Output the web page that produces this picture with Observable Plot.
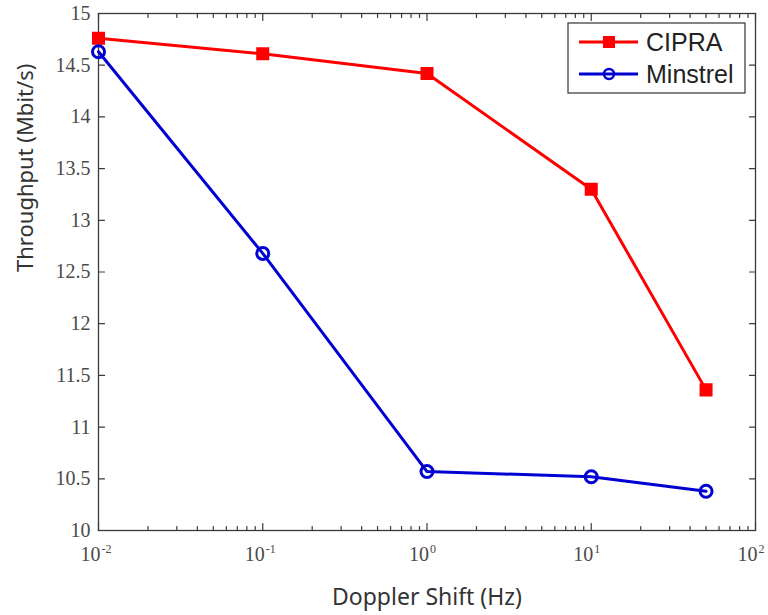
<!DOCTYPE html>
<html>
<head>
<meta charset="utf-8">
<script src="https://cdn.jsdelivr.net/npm/d3@7"></script>
<script src="https://cdn.jsdelivr.net/npm/@observablehq/plot@0.6"></script>
<style>
  html, body { margin: 0; padding: 0; background: #fff; }
  #wrap { position: relative; width: 768px; height: 615px; }
  #legend { position: absolute; left: 0; top: 0; pointer-events: none; }
</style>
</head>
<body>
<div id="wrap"></div>
<script>
// ---- data ----
const dopplerShift = [0.01, 0.1, 1, 10, 50];
const cipraThroughput = [14.76, 14.61, 14.42, 13.30, 11.36];
const minstrelThroughput = [14.63, 12.68, 10.57, 10.52, 10.38];
const seriesNames = ["CIPRA", "Minstrel"];
const xMajorTicks = [0.01, 0.1, 1, 10, 100];
const xTickBase = ["10", "10", "10", "10", "10"];
const xTickExponent = ["-2", "-1", "0", "1", "2"];
const yTicks = [10, 10.5, 11, 11.5, 12, 12.5, 13, 13.5, 14, 14.5, 15];
const yTickLabels = ["10", "10.5", "11", "11.5", "12", "12.5", "13", "13.5", "14", "14.5", "15"];
const xTitle = "Doppler Shift (Hz)";
const yTitle = "Throughput (Mbit/s)";

const xMinorTicks = [];
for (const d of [0.01, 0.1, 1, 10]) for (let k = 2; k <= 9; k++) xMinorTicks.push(+(d * k).toPrecision(3));

const cipra = dopplerShift.map((x, i) => ({x, y: cipraThroughput[i]}));
const minstrel = dopplerShift.map((x, i) => ({x, y: minstrelThroughput[i]}));

const RED = "#ff0000", BLUE = "#0000d2", AX = "#3a3a3a", LABEL = "#4a4a4a";
const SERIF = "Liberation Serif";
const tickShape = {draw(ctx, l) { ctx.moveTo(0, 0); ctx.lineTo(0, -l); }};
const vt = (data, o) => Plot.vector(data, {length: 6, anchor: "start", shape: tickShape, stroke: AX, strokeWidth: 1.2, ...o});
const xi = d => xMajorTicks.indexOf(d);

const chart = Plot.plot({
  width: 768, height: 615,
  marginLeft: 98, marginRight: 13, marginTop: 13, marginBottom: 85,
  x: {type: "log", domain: [0.01, 100], axis: null},
  y: {domain: [10, 15], axis: null},
  style: {fontFamily: SERIF, fontSize: "19px", background: "#fff"},
  marks: [
    vt(xMajorTicks, {x: d => d, frameAnchor: "bottom", length: 7}),
    vt(xMinorTicks, {x: d => d, frameAnchor: "bottom", length: 4}),
    vt(xMajorTicks, {x: d => d, frameAnchor: "top", rotate: 180, length: 7}),
    vt(xMinorTicks, {x: d => d, frameAnchor: "top", rotate: 180, length: 4}),
    vt(yTicks, {y: d => d, frameAnchor: "left", rotate: 90, length: 6}),
    vt(yTicks, {y: d => d, frameAnchor: "right", rotate: -90, length: 6}),
    // x tick labels: base "10" and raised exponent
    Plot.text(xMajorTicks, {x: d => d, frameAnchor: "bottom", text: d => xTickBase[xi(d)],
      textAnchor: "end", dx: 2, dy: 30, fontFamily: SERIF, fontSize: 20, fill: LABEL}),
    Plot.text(xMajorTicks, {x: d => d, frameAnchor: "bottom", text: d => xTickExponent[xi(d)],
      textAnchor: "start", dx: 3, dy: 22, fontFamily: SERIF, fontSize: 12, fill: LABEL}),
    // y tick labels
    Plot.text(yTicks, {y: d => d, frameAnchor: "left", text: d => yTickLabels[yTicks.indexOf(d)],
      textAnchor: "end", dx: -8, fontFamily: SERIF, fontSize: 20, fill: LABEL}),
    Plot.frame({stroke: AX, strokeWidth: 1.3}),
    Plot.line(cipra, {x: "x", y: "y", stroke: RED, strokeWidth: 3}),
    Plot.dot(cipra, {x: "x", y: "y", symbol: "square", r: 6.5, fill: RED, stroke: RED, strokeWidth: 1.5}),
    Plot.line(minstrel, {x: "x", y: "y", stroke: BLUE, strokeWidth: 3}),
    Plot.dot(minstrel, {x: "x", y: "y", symbol: "circle", r: 6, fill: "none", stroke: BLUE, strokeWidth: 3}),
    Plot.text([xTitle], {text: d => d, frameAnchor: "bottom", dy: 74, fontFamily: "Noto Sans", fontSize: 23, fill: "#333"}),
    Plot.text([yTitle], {text: d => d, frameAnchor: "left", rotate: -90, dx: -73, fontFamily: "Noto Sans", fontSize: 22, fill: "#333"})
  ]
});
document.getElementById("wrap").appendChild(chart);

// ---- legend (overlay) ----
const lg = d3.select("#wrap").append("svg").attr("id", "legend").attr("width", 768).attr("height", 615);
lg.append("rect").attr("x", 568).attr("y", 23).attr("width", 177).attr("height", 70)
  .attr("fill", "#fff").attr("stroke", "#333").attr("stroke-width", 1.2);
const items = [{name: seriesNames[0], color: RED, sym: "square", cy: 42}, {name: seriesNames[1], color: BLUE, sym: "circle", cy: 74}];
for (const it of items) {
  lg.append("line").attr("x1", 579).attr("x2", 638).attr("y1", it.cy).attr("y2", it.cy)
    .attr("stroke", it.color).attr("stroke-width", 3);
  if (it.sym === "square") {
    lg.append("rect").attr("x", 603).attr("y", it.cy - 6).attr("width", 12).attr("height", 12).attr("fill", it.color);
  } else {
    lg.append("circle").attr("cx", 609).attr("cy", it.cy).attr("r", 5).attr("fill", "none")
      .attr("stroke", it.color).attr("stroke-width", 2.5);
  }
  lg.append("text").attr("x", 646).attr("y", it.cy).attr("dy", "0.36em")
    .attr("font-family", "Liberation Sans").attr("font-size", 25).attr("fill", "#222")
    .text(it.name);
}
</script>
</body>
</html>
